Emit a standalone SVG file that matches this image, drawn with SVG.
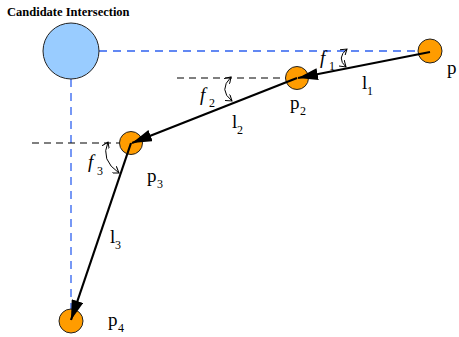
<svg xmlns="http://www.w3.org/2000/svg" width="459" height="337" viewBox="0 0 459 337">
<style>
.blue{stroke:#2f62f0;stroke-width:1.3;stroke-dasharray:8 6;fill:none}
.blk{stroke:#000;stroke-width:1.2;stroke-dasharray:7 5;fill:none}
.pt{fill:#ff9c00;stroke:#222;stroke-width:1}
.arr{stroke:#000;stroke-width:2.2;fill:none;marker-end:url(#ah)}
.arc{stroke:#000;stroke-width:1;fill:none;marker-start:url(#oh);marker-end:url(#oh)}
.lbl{font-family:"Liberation Serif",serif;font-size:19px;fill:#000}
.sub{font-family:"Liberation Serif",serif;font-size:12px;fill:#000}
.it{font-style:italic}
</style>
<defs>
<marker id="ah" markerWidth="20" markerHeight="12" refX="20" refY="6" orient="auto" markerUnits="userSpaceOnUse">
<path d="M0,0 L20,6 L0,12 Z" fill="#000"/>
</marker>
<marker id="oh" markerWidth="8" markerHeight="8" refX="6" refY="4" orient="auto-start-reverse" markerUnits="userSpaceOnUse">
<path d="M0,0 L6,4 L0,8" fill="none" stroke="#000" stroke-width="1"/>
</marker>
</defs>
<text x="7" y="16" font-family="Liberation Serif, serif" font-size="12.5" font-weight="bold">Candidate Intersection</text>
<g id="guides">
<line class="blue" x1="99" y1="51" x2="430" y2="51"/>
<line class="blue" x1="71" y1="79" x2="71" y2="320"/>
<line class="blk" x1="177" y1="78" x2="297" y2="78"/>
<line class="blk" x1="32" y1="143" x2="131" y2="143"/>
</g>
<g id="candidate"><circle cx="71" cy="51" r="28" fill="#99ccff" stroke="#222" stroke-width="1"/></g>
<g id="p1"><circle class="pt" cx="430" cy="51" r="12"/><text class="lbl" x="447" y="74">p</text></g>
<g id="p2"><circle class="pt" cx="297" cy="78" r="11.5"/><text class="lbl" x="290" y="109">p</text><text class="sub" x="300" y="115">2</text></g>
<g id="p3"><circle class="pt" cx="131" cy="143" r="11.5"/><text class="lbl" x="147" y="182">p</text><text class="sub" x="157" y="188">3</text></g>
<g id="p4"><circle class="pt" cx="71" cy="321" r="12"/><text class="lbl" x="108" y="326">p</text><text class="sub" x="118" y="332">4</text></g>
<g id="connectors">
<line class="arr" x1="430" y1="52" x2="298" y2="78"/>
<line class="arr" x1="297" y1="78" x2="132" y2="143"/>
<line class="arr" x1="131" y1="143" x2="71" y2="320"/>
<path class="arc" d="M346,67 Q336,58 347,49"/>
<path class="arc" d="M232,101 Q218,90 231,77"/>
<path class="arc" d="M119,173 Q100,160 108,142"/>
</g>
<g id="labels">
<text class="lbl" x="362" y="89">l</text><text class="sub" x="367" y="95">1</text>
<text class="lbl" x="232" y="128">l</text><text class="sub" x="237" y="134">2</text>
<text class="lbl" x="110" y="243">l</text><text class="sub" x="115" y="249">3</text>
<text class="lbl it" x="320" y="64">f</text><text class="sub" x="329" y="70">1</text>
<text class="lbl it" x="200" y="101">f</text><text class="sub" x="209" y="107">2</text>
<text class="lbl it" x="88" y="168">f</text><text class="sub" x="97" y="175">3</text>
</g>
</svg>
